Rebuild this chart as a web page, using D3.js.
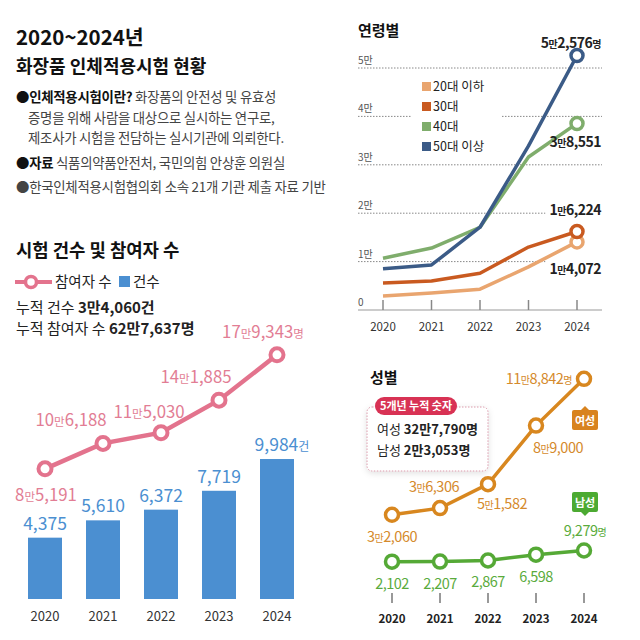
<!DOCTYPE html>
<html>
<head>
<meta charset="utf-8">
<script src="https://cdn.jsdelivr.net/npm/d3@7"></script>
<style>
  body { margin: 0; background: #fff; }
  svg { display: block; font-family: "Noto Sans CJK KR", "Noto Sans", sans-serif; }
</style>
</head>
<body>
<svg id="chart" width="640" height="640"></svg>
<script>
// ---- data ----
const years = ['2020', '2021', '2022', '2023', '2024'];

const testCounts = [4375, 5610, 6372, 7719, 9984];
const countLabels = ['4,375', '5,610', '6,372', '7,719', '9,984건'];
const participants = [85191, 106188, 115030, 141885, 179343];
const participantLabels = ['8만5,191', '10만6,188', '11만5,030', '14만1,885', '17만9,343명'];

const ageGroups = ['20대 이하', '30대', '40대', '50대 이상'];
const age20 = [2900, 3500, 4300, 8900, 14072];
const age30 = [5600, 6000, 7600, 13000, 16224];
const age40 = [10700, 12800, 17100, 31600, 38551];
const age50 = [8500, 9300, 17100, 33900, 52576];
const ageEndLabels = ['1만4,072', '1만6,224', '3만8,551', '5만2,576명'];
const ageTicks = [0, 10000, 20000, 30000, 40000, 50000];
const ageTickLabels = ['0', '1만', '2만', '3만', '4만', '5만'];

const female = [32060, 36306, 51582, 89000, 118842];
const femaleLabels = ['3만2,060', '3만6,306', '5만1,582', '8만9,000', '11만8,842명'];
const male = [2102, 2207, 2867, 6598, 9279];
const maleLabels = ['2,102', '2,207', '2,867', '6,598', '9,279명'];

const svg = d3.select('#chart');

// numbers with smaller hangul units (만, 명, 건)
function richText(sel, str, big, small) {
  sel.selectAll('tspan').remove();
  const parts = str.match(/[가-힣]+|[^가-힣]+/g);
  parts.forEach(p => {
    sel.append('tspan')
      .attr('font-size', /[가-힣]/.test(p) ? small : big)
      .text(p);
  });
  return sel;
}

// ---- header text ----
const head = svg.append('g').attr('fill', '#111');
head.append('text').attr('x', 16).attr('y', 45)
  .attr('font-size', 20.5).attr('font-weight', 700).text('2020~2024년');
head.append('text').attr('x', 16).attr('y', 73)
  .attr('font-size', 18).attr('font-weight', 700).text('화장품 인체적용시험 현황');

const intro = [
  {y: 102, x: 16, bold: '●인체적용시험이란?', rest: ' 화장품의 안전성 및 유효성'},
  {y: 123, x: 28, bold: '', rest: '증명을 위해 사람을 대상으로 실시하는 연구로,'},
  {y: 143, x: 28, bold: '', rest: '제조사가 시험을 전담하는 실시기관에 의뢰한다.'},
  {y: 168, x: 16, bold: '●자료', rest: ' 식품의약품안전처, 국민의힘 안상훈 의원실'},
  {y: 192, x: 16, bold: '', rest: '●한국인체적용시험협의회 소속 21개 기관 제출 자료 기반'}
];
intro.forEach(d => {
  const t = svg.append('text').attr('x', d.x).attr('y', d.y)
    .attr('font-size', 13.4).attr('letter-spacing', -0.25);
  if (d.bold) t.append('tspan').attr('font-weight', 700).attr('fill', '#111').text(d.bold);
  t.append('tspan').attr('fill', '#444').text(d.rest);
});

// ---- left: counts and participants ----
svg.append('text').attr('x', 16).attr('y', 257)
  .attr('font-size', 17.8).attr('font-weight', 700).attr('fill', '#111').text('시험 건수 및 참여자 수');

const pink = '#e3738d';
const blue = '#4b8fd1';

const leg = svg.append('g');
leg.append('line').attr('x1', 15).attr('x2', 52).attr('y1', 282).attr('y2', 282)
  .attr('stroke', pink).attr('stroke-width', 4);
leg.append('circle').attr('cx', 31).attr('cy', 282).attr('r', 5.5)
  .attr('fill', '#fff').attr('stroke', pink).attr('stroke-width', 3.5);
leg.append('text').attr('x', 55).attr('y', 287).attr('font-size', 14.5).attr('fill', '#222').text('참여자 수');
leg.append('rect').attr('x', 119).attr('y', 276).attr('width', 11).attr('height', 11).attr('fill', blue);
leg.append('text').attr('x', 133).attr('y', 287).attr('font-size', 14.5).attr('fill', '#222').text('건수');

const sums = [
  {y: 313, a: '누적 건수 ', b: '3만4,060건'},
  {y: 334, a: '누적 참여자 수 ', b: '62만7,637명'}
];
sums.forEach(d => {
  const t = svg.append('text').attr('x', 16).attr('y', d.y).attr('font-size', 15).attr('fill', '#222');
  t.append('tspan').text(d.a);
  t.append('tspan').attr('font-weight', 700).text(d.b);
});

const xBar = d3.scaleBand().domain(years).range([4, 318]).padding(0.414);
const yBar = d3.scaleLinear().domain([0, 10000]).range([599, 458.8]);
const yPart = d3.scaleLinear().domain([0, 200000]).range([572, 329.8]);

svg.append('g').selectAll('rect')
  .data(testCounts)
  .join('rect')
  .attr('x', (d, i) => xBar(years[i]))
  .attr('y', d => yBar(d))
  .attr('width', xBar.bandwidth())
  .attr('height', d => yBar(0) - yBar(d))
  .attr('fill', blue);

svg.append('g').selectAll('text')
  .data(countLabels)
  .join('text')
  .attr('x', (d, i) => xBar(years[i]) + xBar.bandwidth() / 2 + (i === 4 ? 5 : 0))
  .attr('y', (d, i) => yBar(testCounts[i]) - 8)
  .attr('text-anchor', 'middle')
  .attr('fill', blue)
  .each(function(d) { richText(d3.select(this), d, 17.5, 12); });

svg.append('g').selectAll('text')
  .data(years)
  .join('text')
  .attr('x', d => xBar(d) + xBar.bandwidth() / 2)
  .attr('y', 621)
  .attr('text-anchor', 'middle')
  .attr('font-size', 13)
  .attr('fill', '#333')
  .text(d => d);

const cx = i => xBar(years[i]) + xBar.bandwidth() / 2;
const partLine = d3.line().x((d, i) => cx(i)).y(d => yPart(d));
svg.append('path').datum(participants)
  .attr('d', partLine)
  .attr('fill', 'none').attr('stroke', pink).attr('stroke-width', 4.5);
svg.append('g').selectAll('circle')
  .data(participants)
  .join('circle')
  .attr('cx', (d, i) => cx(i))
  .attr('cy', d => yPart(d))
  .attr('r', 6.5)
  .attr('fill', '#fff').attr('stroke', pink).attr('stroke-width', 4);

// label offsets from each point: [dx, dy of text centre]
const partOffsets = [[1, 26], [-32, -23], [-12, -21], [-23, -23], [-14, -23]];
svg.append('g').selectAll('text')
  .data(participantLabels)
  .join('text')
  .attr('x', (d, i) => cx(i) + partOffsets[i][0])
  .attr('y', (d, i) => yPart(participants[i]) + partOffsets[i][1] + 6)
  .attr('text-anchor', 'middle')
  .attr('fill', '#e27d94')
  .each(function(d) { richText(d3.select(this), d, 16.8, 11.5); });

// ---- top right: by age ----
svg.append('text').attr('x', 358).attr('y', 36)
  .attr('font-size', 15).attr('font-weight', 700).attr('fill', '#111').text('연령별');

const ageColors = ['#e9a56f', '#c95a20', '#7fad6c', '#3b5b87'];
const ageSeries = [age20, age30, age40, age50];
const xAge = d3.scalePoint().domain(years).range([383, 577]);
const yAge = d3.scaleLinear().domain([0, 50000]).range([310, 68]);

const grid = svg.append('g');
grid.selectAll('line')
  .data(ageTicks.slice(1))
  .join('line')
  .attr('x1', 358).attr('x2', 602)
  .attr('y1', d => yAge(d)).attr('y2', d => yAge(d))
  .attr('stroke', '#888').attr('stroke-width', 1).attr('stroke-dasharray', '1.5,1.5');
svg.append('line').attr('x1', 358).attr('x2', 602)
  .attr('y1', yAge(0)).attr('y2', yAge(0))
  .attr('stroke', '#999').attr('stroke-width', 1.2);
svg.append('g').selectAll('text')
  .data(ageTicks)
  .join('text')
  .attr('x', 358)
  .attr('y', d => yAge(d) - 4)
  .attr('font-size', 10).attr('fill', '#555')
  .text((d, i) => ageTickLabels[i]);
svg.append('g').selectAll('line')
  .data(years)
  .join('line')
  .attr('x1', d => xAge(d)).attr('x2', d => xAge(d))
  .attr('y1', yAge(0) - 10).attr('y2', yAge(0))
  .attr('stroke', '#888').attr('stroke-width', 1.5);
svg.append('g').selectAll('text')
  .data(years)
  .join('text')
  .attr('x', d => xAge(d)).attr('y', 331)
  .attr('text-anchor', 'middle').attr('font-size', 11.5).attr('fill', '#333')
  .text(d => d);

// legend (white backing breaks the grid line)
const ageLeg = svg.append('g');
ageLeg.append('rect').attr('x', 412).attr('y', 76).attr('width', 90).attr('height', 80).attr('fill', '#fff');
ageGroups.forEach((g, i) => {
  ageLeg.append('rect').attr('x', 422).attr('y', 82 + i * 20).attr('width', 9).attr('height', 9)
    .attr('fill', ageColors[i]);
  ageLeg.append('text').attr('x', 433).attr('y', 91 + i * 20)
    .attr('font-size', 12.5).attr('fill', '#222').text(g);
});

// end labels: backing rects sit between grid and lines
const ageBack = svg.append('g');
const ageLinesG = svg.append('g');
const ageLab = svg.append('g');
const ageLabelDy = [27, -21, 19, -13];
ageEndLabels.forEach((l, i) => {
  const t = ageLab.append('text')
    .attr('x', 601)
    .attr('y', yAge(ageSeries[i][4]) + ageLabelDy[i] + 5)
    .attr('text-anchor', 'end')
    .attr('fill', '#222')
    .attr('font-weight', 700)
    .attr('letter-spacing', -0.5);
  richText(t, l, 14, 10);
  const bb = t.node().getBBox();
  ageBack.append('rect')
    .attr('x', bb.x - 4).attr('y', bb.y).attr('width', bb.width + 6).attr('height', bb.height)
    .attr('fill', '#fff');
});

const ageLine = d3.line().x((d, i) => xAge(years[i])).y(d => yAge(d));
ageLinesG.selectAll('path')
  .data(ageSeries)
  .join('path')
  .attr('d', ageLine)
  .attr('fill', 'none')
  .attr('stroke', (d, i) => ageColors[i])
  .attr('stroke-width', 3.5)
  .attr('stroke-linejoin', 'round');
ageLinesG.selectAll('circle')
  .data(ageSeries)
  .join('circle')
  .attr('cx', xAge('2024'))
  .attr('cy', d => yAge(d[4]))
  .attr('r', 6)
  .attr('fill', '#fff')
  .attr('stroke', (d, i) => ageColors[i])
  .attr('stroke-width', 3.5);

// ---- bottom right: by gender ----
svg.append('text').attr('x', 370).attr('y', 383)
  .attr('font-size', 15).attr('font-weight', 700).attr('fill', '#111').text('성별');

const femaleColor = '#d8871f';
const maleColor = '#55a936';
const xSex = d3.scalePoint().domain(years).range([392, 584]);
const ySex = d3.scaleLinear().domain([0, 120000]).range([565, 377]);

const defs = svg.append('defs');
defs.append('filter').attr('id', 'shadow').attr('x', '-20%').attr('y', '-20%').attr('width', '140%').attr('height', '150%')
  .append('feDropShadow').attr('dx', 0).attr('dy', 2).attr('stdDeviation', 3)
  .attr('flood-color', '#000').attr('flood-opacity', 0.12);

const box = svg.append('g');
box.append('rect').attr('x', 367).attr('y', 407).attr('width', 121).attr('height', 64).attr('rx', 5)
  .attr('fill', '#fff').attr('stroke', '#d99aab').attr('stroke-width', 1)
  .attr('stroke-dasharray', '1.5,1.5').attr('filter', 'url(#shadow)');
box.append('rect').attr('x', 375).attr('y', 397).attr('width', 82).attr('height', 18).attr('rx', 9)
  .attr('fill', '#d83254');
box.append('text').attr('x', 416).attr('y', 410).attr('text-anchor', 'middle')
  .attr('font-size', 11).attr('font-weight', 700).attr('fill', '#fff').text('5개년 누적 숫자');
[{y: 434, a: '여성 ', b: '32만7,790명'}, {y: 455, a: '남성 ', b: '2만3,053명'}].forEach(d => {
  const t = box.append('text').attr('x', 377).attr('y', d.y).attr('font-size', 13).attr('fill', '#222');
  t.append('tspan').text(d.a);
  t.append('tspan').attr('font-weight', 700).text(d.b);
});

svg.append('g').selectAll('line')
  .data(years)
  .join('line')
  .attr('x1', d => xSex(d)).attr('x2', d => xSex(d))
  .attr('y1', 593).attr('y2', 603)
  .attr('stroke', '#777').attr('stroke-width', 1.5);
svg.append('g').selectAll('text')
  .data(years)
  .join('text')
  .attr('x', d => xSex(d)).attr('y', 623)
  .attr('text-anchor', 'middle').attr('font-size', 11.5).attr('font-weight', 700).attr('fill', '#222')
  .text(d => d);

const sexLine = d3.line().x((d, i) => xSex(years[i])).y(d => ySex(d));
[[female, femaleColor], [male, maleColor]].forEach(([s, c]) => {
  svg.append('path').datum(s).attr('d', sexLine)
    .attr('fill', 'none').attr('stroke', c).attr('stroke-width', 3.5);
  svg.append('g').selectAll('circle')
    .data(s)
    .join('circle')
    .attr('cx', (d, i) => xSex(years[i]))
    .attr('cy', d => ySex(d))
    .attr('r', 6.5)
    .attr('fill', '#fff').attr('stroke', c).attr('stroke-width', 3.5);
});

// [dx, dy of text centre, anchor]
const femaleOffsets = [[0, 22, 'middle'], [-6, -21, 'middle'], [14, 20, 'middle'], [22, 22, 'middle'], [-12, 0, 'end']];
const maleOffsets = [[0, 22, 'middle'], [0, 22, 'middle'], [0, 21, 'middle'], [0, 22, 'middle'], [1, -19, 'middle']];
[[femaleLabels, female, femaleOffsets, '#d58a2c'], [maleLabels, male, maleOffsets, '#5aab3c']].forEach(([labs, s, off, c]) => {
  svg.append('g').selectAll('text')
    .data(labs)
    .join('text')
    .attr('x', (d, i) => xSex(years[i]) + off[i][0])
    .attr('y', (d, i) => ySex(s[i]) + off[i][1] + 5)
    .attr('text-anchor', (d, i) => off[i][2])
    .attr('fill', c)
    .attr('letter-spacing', -0.5)
    .each(function(d) { richText(d3.select(this), d, 14.5, 10); });
});

// series tags
function tag(x, y, text, color, pointerUp) {
  const g = svg.append('g');
  const w = 26, h = 20;
  g.append('rect').attr('x', x - w / 2).attr('y', y).attr('width', w).attr('height', h).attr('rx', 2).attr('fill', color);
  const py = pointerUp ? y : y + h;
  const s = pointerUp ? -4 : 4;
  g.append('path').attr('d', `M${x - 4},${py}L${x},${py + s}L${x + 4},${py}Z`).attr('fill', color);
  g.append('text').attr('x', x).attr('y', y + 14.5).attr('text-anchor', 'middle')
    .attr('font-size', 11).attr('font-weight', 700).attr('fill', '#fff').text(text);
}
tag(xSex('2024') + 1, 410, '여성', '#d8831f', true);
tag(xSex('2024') + 1, 492, '남성', '#4caa32', false);
</script>
</body>
</html>
